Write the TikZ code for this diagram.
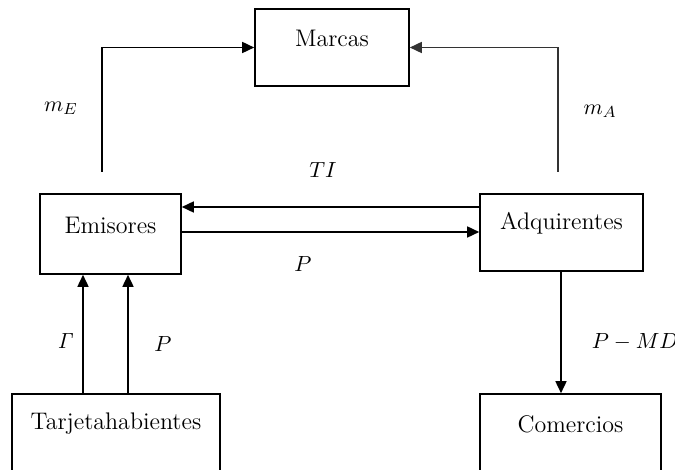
\documentclass[tikz,border=0pt]{standalone}
\usetikzlibrary{arrows.meta}
\begin{document}
\begin{tikzpicture}[x=0.5pt,y=-0.5pt,
  box/.style={draw=black,line width=0.8pt,inner sep=0pt,minimum width=#1},
  lbl/.style={font=\fontsize{12}{14}\selectfont,inner sep=0pt},
  mth/.style={font=\fontsize{11}{13}\selectfont,inner sep=0pt},
  arr/.style={line width=0.8pt,-{Triangle[length=6pt,width=5.5pt]}},
  ln/.style={line width=0.8pt}]
\useasboundingbox (0,0) rectangle (675,470);
\clip (0,0) rectangle (675,470);
% boxes
\node[box=77pt,minimum height=38.5pt] (mar) at (332,47.5) {};
\node[box=70.5pt,minimum height=40pt] (emi) at (110.5,234) {};
\node[box=81.5pt,minimum height=38.5pt] (adq) at (561.5,232.5) {};
\node[box=104pt,minimum height=45pt] (tar) at (116,439) {};
\node[box=90.5pt,minimum height=45pt] (com) at (570.5,439) {};
% box texts
\node[lbl] (marT) at (332,38) {Marcas};
\node[lbl] (emiT) at (110.5,225) {Emisores};
\node[lbl] (adqT) at (561.5,223) {Adquirentes};
\node[lbl] (tarT) at (116,424) {Tarjetahabientes};
\node[lbl] (comT) at (570.5,424) {Comercios};
% free ends
\coordinate (eUp) at (102,172);
\coordinate (aUp) at (558,172);
% connectors
\draw[arr] (eUp) |- (mar.west);
\draw[arr,draw=black!80] (aUp) |- (mar.east);
\draw[arr] (adq.west |- 0,207) -- (emi.east |- 0,207);
\draw[arr] (emi.east |- 0,232) -- (adq.west |- 0,232);
\draw[arr] (tar.north -| 83,0) -- (emi.south -| 83,0);
\draw[arr] (tar.north -| 128,0) -- (emi.south -| 128,0);
\draw[arr] (adq.south -| 561,0) -- (com.north -| 561,0);
% labels
\node[mth] (lmE) at (61,108) {$m_E$};
\node[mth] (lmA) at (600,111) {$m_A$};
\node[mth] (lTI) at (323,170) {$TI$};
\node[mth] (lP1) at (303,264) {$P$};
\node[mth] (lG) at (66,341) {$\mathit{\Gamma}$};
\node[mth] (lP2) at (163,344) {$P$};
\node[mth] (lPMD) at (635,342) {$P-MD$};
\end{tikzpicture}
\end{document}
